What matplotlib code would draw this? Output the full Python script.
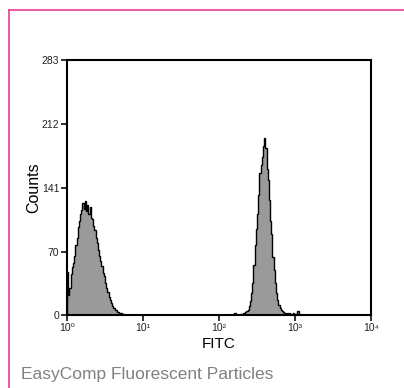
import matplotlib
matplotlib.use('Agg')
import matplotlib.pyplot as plt
from matplotlib.lines import Line2D
import numpy as np

# histogram channels: 64 per decade over 4 decades
CH_PER_DECADE = 64
N_CH = 256

# first population (low beads), counts per channel from channel 0
peak1_start = 0
peak1_counts = [48, 22, 30, 45, 53, 58, 66, 78, 86, 98, 104, 112, 116, 124,
                118, 127, 115, 122, 112, 120, 108, 106, 99, 94, 86, 80, 72,
                66, 60, 54, 47, 43, 35, 30, 26, 20, 17, 13, 10, 8, 6, 5, 3,
                3, 2, 2, 1, 1, 0]

# second population (bright beads)
peak2_start = 141
peak2_counts = [2, 0, 0, 0, 0, 1, 1, 2, 2, 3, 4, 6, 10, 16, 24, 36, 55, 78,
                95, 112, 133, 158, 166, 175, 188, 196, 185, 162, 150, 128,
                104, 90, 64, 50, 36, 24, 17, 11, 8, 5, 4, 3, 2, 1, 2, 1, 2,
                1, 1, 2, 1, 1, 1, 4, 1]

y_ticks = [0, 70, 141, 212, 283]
x_ticks = [1, 10, 100, 1000, 10000]
x_tick_labels = ['10⁰', '10¹', '10²', '10³', '10⁴']

counts = np.zeros(N_CH)
counts[peak1_start:peak1_start + len(peak1_counts)] = peak1_counts
counts[peak2_start:peak2_start + len(peak2_counts)] = peak2_counts
edges = 10 ** (np.arange(N_CH + 1) / CH_PER_DECADE)

plt.rcParams['font.family'] = ['Liberation Sans', 'DejaVu Sans']

fig = plt.figure(figsize=(4.04, 3.88), dpi=100)
ax = fig.add_axes([67 / 404, 1 - 315 / 388, 304 / 404, 255 / 388])

ax.stairs(counts, edges, fill=True, color='#9a9a9a', lw=0)
ax.stairs(counts, edges, color='black', lw=1.0)

ax.set_xscale('log')
ax.set_xlim(1, 10000)
ax.set_ylim(0, 283)
ax.set_yticks(y_ticks)
ax.set_xticks(x_ticks)
ax.set_xticklabels(x_tick_labels)
ax.minorticks_off()
ax.tick_params(axis='both', direction='out', length=4, width=1.3,
               labelsize=7.5, colors='#222222', pad=1.5)
for s in ax.spines.values():
    s.set_linewidth(1.5)

ax.set_xlabel('FITC', fontsize=11, labelpad=3)
ax.set_ylabel('Counts', fontsize=11.5, labelpad=0)

# pink frame around the panel
pink = '#e8499c'
fig.add_artist(Line2D([9 / 404, 9 / 404], [0, 1 - 10 / 388],
                      color=pink, lw=1.3, transform=fig.transFigure))
fig.add_artist(Line2D([9 / 404, 1], [1 - 10 / 388, 1 - 10 / 388],
                      color=pink, lw=1.3, transform=fig.transFigure))

fig.text(21 / 404, 1 - 375 / 388, 'EasyComp Fluorescent Particles',
         fontsize=12.5, color='#808080', va='center', ha='left')

fig.savefig('out.png', dpi=100)
